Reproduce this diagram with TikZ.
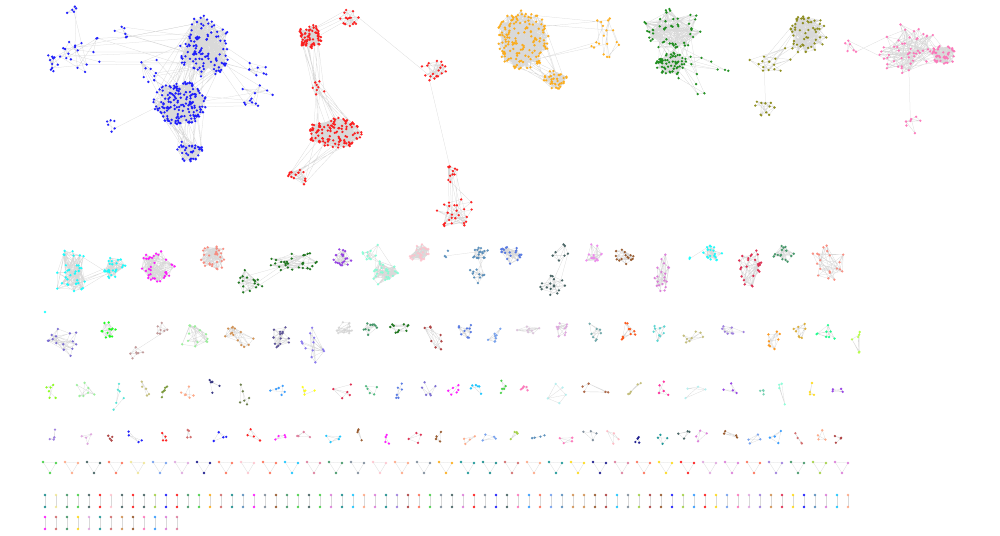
\PassOptionsToPackage{svgnames}{xcolor}
\documentclass[tikz,border=0pt]{standalone}
\tikzset{NodeFill/.style={fill=#1,fill opacity=0.85}}
\tikzstyle{EdgeGraph}=[black!15,line width=0.25pt]
\pgfmathdeclarerandomlist{Pal}{{Red}{Blue}{Crimson}{HotPink}{Orange}{Gold}{LimeGreen}{SeaGreen}{Teal}{SteelBlue}{DodgerBlue}{MediumPurple}{Orchid}{Magenta}{SaddleBrown}{Peru}{LightSalmon}{Tomato}{DarkCyan}{DeepSkyBlue}{YellowGreen}{Plum}{Pink}{LightPink}{DarkSlateGray}{IndianRed}{CornflowerBlue}{Khaki}{PaleVioletRed}{SlateGray}{Navy}{Brown}}
% dots are kept for the end, so that they lie over every edge
\newcommand\DotList{}
\newcommand\Dots[3]{\fill[NodeFill=#3] \foreach \i in {1,...,#2}{(#1-\i) circle[radius=1.3]};}
\newcommand\AddDots[3]{\xdef\DotList{\unexpanded\expandafter{\DotList}\noexpand\Dots{#1}{#2}{#3}}}
% name, x, y, rx, ry, nodes, colour, edges per node
\newcommand\Cluster[8]{%
  \foreach \i in {1,...,#6}{%
    \pgfmathsetmacro\Ang{360*rnd}%
    \pgfmathsetmacro\Rad{sqrt(rnd)}%
    \coordinate (#1-\i) at ({#2+#4*\Rad*cos(\Ang)},{#3+#5*\Rad*sin(\Ang)});
  }%
  \draw[EdgeGraph] \foreach \k in {1,...,#8}{\foreach \i [evaluate=\i as \Ja using {int(mod(\i*(3+7*\k)+17*\k,#6)+1)}] in {1,...,#6}{(#1-\i) -- (#1-\Ja)}};
  \AddDots{#1}{#6}{#7}}
% cluster a, size, cluster b, size, links
\newcommand\Link[5]{%
  \draw[EdgeGraph] \foreach \k [evaluate=\k as \Ja using {int(mod(\k*7,#2)+1)}, evaluate=\k as \Jb using {int(mod(\k*11+3,#4)+1)}] in {1,...,#5}{(#1-\Ja) -- (#3-\Jb)};}
\newcommand\Tri[4]{%
  \coordinate (#1-1) at (#2-7,#3-3);
  \coordinate (#1-2) at (#2+6,#3-2);
  \coordinate (#1-3) at (#2,#3+8);
  \draw[EdgeGraph] (#1-1) -- (#1-2) -- (#1-3) -- cycle;
  \AddDots{#1}{3}{#4}}
\newcommand\Pair[4]{%
  \coordinate (#1-1) at (#2,#3);
  \coordinate (#1-2) at (#2,#3+12);
  \draw[EdgeGraph] (#1-1) -- (#1-2);
  \AddDots{#1}{2}{#4}}

\begin{document}
\begin{tikzpicture}[x=1pt,y=-1pt]
  \pgfmathsetseed{7}
  \useasboundingbox (0,0) rectangle (1000,535);
  % blue component
  \Cluster{blueCore}{180}{103}{27}{22}{170}{Blue}{5}
  \Cluster{blueUp}{205}{48}{26}{33}{110}{Blue}{5}
  \Cluster{blueBot}{190}{150}{13}{12}{35}{Blue}{5}
  \Cluster{blueLa}{85}{55}{25}{20}{18}{Blue}{2}
  \Cluster{blueLb}{53}{63}{9}{9}{10}{Blue}{3}
  \Cluster{blueLc}{73}{12}{7}{7}{5}{Blue}{2}
  \Cluster{blueLd}{122}{33}{8}{7}{6}{Blue}{2}
  \Cluster{blueMid}{150}{70}{12}{12}{10}{Blue}{1}
  \Cluster{blueRa}{260}{67}{12}{12}{8}{Blue}{2}
  \Cluster{blueRb}{255}{95}{18}{12}{12}{Blue}{2}
  \Cluster{blueSW}{112}{126}{12}{8}{6}{Blue}{2}
  \Link{blueCore}{170}{blueUp}{110}{30}
  \Link{blueCore}{170}{blueBot}{35}{25}
  \Link{blueLa}{18}{blueUp}{110}{8}
  \Link{blueLb}{10}{blueLa}{18}{3}
  \Link{blueLc}{5}{blueLa}{18}{2}
  \Link{blueLd}{6}{blueUp}{110}{4}
  \Link{blueMid}{10}{blueCore}{170}{6}
  \Link{blueMid}{10}{blueUp}{110}{4}
  \Link{blueRa}{8}{blueUp}{110}{4}
  \Link{blueRb}{12}{blueCore}{170}{4}
  \Link{blueRb}{12}{blueUp}{110}{3}
  \Link{blueSW}{6}{blueCore}{170}{1}
  % red component
  \Cluster{redA}{310}{37}{12}{13}{70}{Red}{5}
  \Cluster{redB}{350}{18}{11}{9}{15}{Red}{4}
  \Cluster{redC}{320}{87}{8}{9}{8}{Red}{3}
  \Cluster{redD}{335}{133}{27}{16}{115}{Red}{5}
  \Cluster{redE}{297}{178}{11}{9}{16}{Red}{4}
  \Cluster{redF}{433}{70}{13}{11}{18}{Red}{4}
  \Cluster{redG}{450}{173}{9}{9}{12}{Red}{3}
  \Cluster{redH}{455}{210}{18}{20}{25}{Red}{2}
  \Link{redA}{70}{redB}{15}{4}
  \Link{redA}{70}{redC}{8}{12}
  \Link{redC}{8}{redD}{115}{14}
  \Link{redD}{115}{redE}{16}{10}
  \Link{redB}{15}{redF}{18}{1}
  \Link{redF}{18}{redG}{12}{1}
  \Link{redG}{12}{redH}{25}{8}
  % orange component
  \Cluster{orA}{523}{40}{27}{30}{150}{Orange}{5}
  \Cluster{orB}{555}{80}{12}{11}{35}{Orange}{5}
  \Cluster{orC}{605}{38}{22}{20}{18}{Orange}{2}
  \Link{orA}{150}{orB}{35}{14}
  \Link{orA}{150}{orC}{18}{5}
  % green component
  \Cluster{grA}{672}{28}{30}{22}{50}{Green}{4}
  \Cluster{grB}{672}{64}{16}{12}{60}{Green}{5}
  \Cluster{grC}{700}{75}{30}{20}{14}{Green}{1}
  \Link{grA}{50}{grB}{60}{18}
  \Link{grB}{60}{grC}{14}{8}
  \Link{grA}{50}{grC}{14}{4}
  % olive component
  \Cluster{olA}{807}{35}{20}{20}{55}{Olive}{5}
  \Cluster{olB}{772}{58}{25}{14}{14}{Olive}{2}
  \Cluster{olC}{765}{107}{13}{9}{12}{Olive}{3}
  \Link{olA}{55}{olB}{14}{6}
  \Link{olB}{14}{olC}{12}{1}
  % pink component
  \Cluster{piA}{908}{50}{30}{28}{50}{HotPink}{3}
  \Cluster{piB}{944}{55}{12}{10}{40}{HotPink}{6}
  \Cluster{piC}{850}{45}{12}{8}{6}{HotPink}{2}
  \Cluster{piD}{913}{125}{10}{9}{8}{HotPink}{3}
  \Link{piA}{50}{piB}{40}{14}
  \Link{piA}{50}{piC}{6}{2}
  \Link{piA}{50}{piD}{8}{1}
  % second row
  \Cluster{cyA}{70}{272}{20}{22}{35}{Cyan}{5}
  \Cluster{cyB}{113}{268}{13}{11}{25}{Cyan}{5}
  \Link{cyA}{35}{cyB}{25}{6}
  \Cluster{mgA}{157}{266}{18}{16}{35}{Magenta}{5}
  \Cluster{saA}{213}{258}{15}{13}{30}{Salmon}{5}
  \Cluster{dgA}{252}{282}{14}{14}{16}{DarkGreen}{3}
  \Cluster{dgB}{292}{261}{25}{12}{30}{DarkGreen}{2}
  \Link{dgA}{16}{dgB}{30}{3}
  \Cluster{puA}{342}{257}{10}{10}{20}{BlueViolet}{4}
  \Cluster{aqA}{372}{253}{10}{10}{10}{Aquamarine}{3}
  \Cluster{aqB}{385}{273}{13}{14}{30}{Aquamarine}{5}
  \Link{aqA}{10}{aqB}{30}{4}
  \Cluster{lpA}{420}{253}{11}{10}{25}{Pink}{6}
  \Cluster{sbA}{480}{253}{9}{9}{18}{SteelBlue}{3}
  \Cluster{sbB}{475}{277}{10}{8}{10}{SteelBlue}{3}
  \Cluster{sbC}{448}{254}{6}{6}{3}{SteelBlue}{1}
  \Link{sbA}{18}{sbB}{10}{4}
  \Link{sbC}{3}{sbA}{18}{1}
  \Cluster{rbA}{512}{253}{12}{11}{20}{RoyalBlue}{4}
  \Cluster{dsA}{560}{253}{8}{10}{8}{DarkSlateGray}{2}
  \Cluster{dsB}{553}{285}{17}{13}{16}{DarkSlateGray}{2}
  \Link{dsA}{8}{dsB}{16}{2}
  \Cluster{viA}{592}{253}{11}{10}{14}{Violet}{4}
  \Cluster{bnA}{627}{255}{12}{10}{15}{SaddleBrown}{4}
  \Cluster{ocA}{662}{272}{8}{20}{20}{Orchid}{3}
  \Cluster{tqA}{713}{253}{10}{8}{18}{Cyan}{5}
  \Cluster{tqB}{690}{258}{3}{2}{2}{Cyan}{1}
  \Link{tqB}{2}{tqA}{18}{1}
  \Cluster{crA}{750}{267}{12}{20}{25}{Crimson}{3}
  \Cluster{dsgA}{785}{255}{12}{10}{15}{SeaGreen}{4}
  \Cluster{lcA}{828}{263}{18}{18}{20}{Salmon}{3}
  % third row
  \coordinate (lone-1) at (45,312);
  \AddDots{lone}{1}{Cyan}
  \Cluster{brA}{137}{352}{7}{13}{7}{RosyBrown}{2}
  \Cluster{brB}{163}{330}{8}{8}{7}{RosyBrown}{2}
  \Link{brA}{7}{brB}{7}{1}
  \foreach \Px/\Py/\Rx/\Ry/\Nn/\Cc [count=\q] in {65/340/18/18/15/SlateBlue,107/330/9/8/13/Lime,195/340/14/16/14/LightGreen,238/338/16/13/14/Peru,280/337/10/12/14/DarkSlateBlue,313/345/12/24/12/MediumSlateBlue,345/330/9/8/12/LightGray,372/330/9/8/10/SeaGreen,400/328/11/7/10/DarkGreen,432/340/12/16/8/Brown,466/330/9/10/10/RoyalBlue,495/337/12/12/8/CornflowerBlue,528/328/12/7/8/Thistle,565/330/10/9/10/Plum,594/332/10/10/8/CadetBlue,625/332/11/10/10/OrangeRed,660/333/13/10/9/MediumTurquoise,692/338/12/8/8/DarkKhaki,733/330/14/8/8/MediumPurple,772/340/10/10/8/DarkOrange,800/332/8/10/8/Goldenrod,826/333/12/10/8/SpringGreen,856/340/7/18/6/GreenYellow}{%
    \Cluster{rowC\q}{\Px}{\Py}{\Rx}{\Ry}{\Nn}{\Cc}{3}}
  % fourth row
  \foreach \Px/\Py/\Rx/\Ry/\Nn/\Cc [count=\q] in {52/392/7/10/6/LawnGreen,87/390/14/8/7/LightGreen,118/398/7/16/6/Turquoise,143/392/7/12/5/DarkKhaki,165/390/7/8/6/OliveDrab,188/390/8/8/6/LightSalmon,213/388/8/9/6/MidnightBlue,240/398/12/18/6/DarkOliveGreen,279/391/12/8/6/DodgerBlue,308/390/8/7/5/Yellow,343/391/12/9/5/Crimson,372/389/10/7/5/MediumSeaGreen,400/392/9/10/6/RoyalBlue,428/388/10/8/6/SlateBlue,452/388/10/8/6/Magenta,478/388/9/9/6/DeepSkyBlue,503/388/8/9/5/LimeGreen,527/388/8/9/5/HotPink,557/392/12/12/5/PaleTurquoise,595/389/18/6/5/Sienna,634/388/10/8/5/DarkKhaki,663/390/8/9/5/DeepPink,697/393/17/7/4/PaleTurquoise,733/395/11/12/4/BlueViolet,760/390/7/7/4/MediumAquamarine,785/395/12/12/4/Aquamarine,812/390/8/8/4/Gold,840/390/9/8/4/BlueViolet}{%
    \Cluster{rowD\q}{\Px}{\Py}{\Rx}{\Ry}{\Nn}{\Cc}{2}}
  % fifth row
  \foreach \Px [count=\q] in {58,90,113,135,160,188,218,252,280,302,333,358,388,417,443,467,490,513,540,567,590,613,636,660,683,705,730,755,778,800,822,842}{%
    \pgfmathrandomitem\Cc{Pal}
    \Cluster{rowE\q}{\Px}{437}{9}{8}{4}{\Cc}{2}}
  % triangles
  \foreach \Px [count=\q] in {50,72,...,846}{%
    \pgfmathrandomitem\Cc{Pal}
    \Tri{rowF\q}{\Px}{465}{\Cc}}
  % pairs
  \foreach \Px [count=\q] in {45,56,...,850}{%
    \pgfmathrandomitem\Cc{Pal}
    \Pair{rowG\q}{\Px}{495}{\Cc}}
  \foreach \Px [count=\q] in {45,56,...,180}{%
    \pgfmathrandomitem\Cc{Pal}
    \Pair{rowH\q}{\Px}{517}{\Cc}}
  % all dots over the edges
  \DotList
\end{tikzpicture}
\end{document}
